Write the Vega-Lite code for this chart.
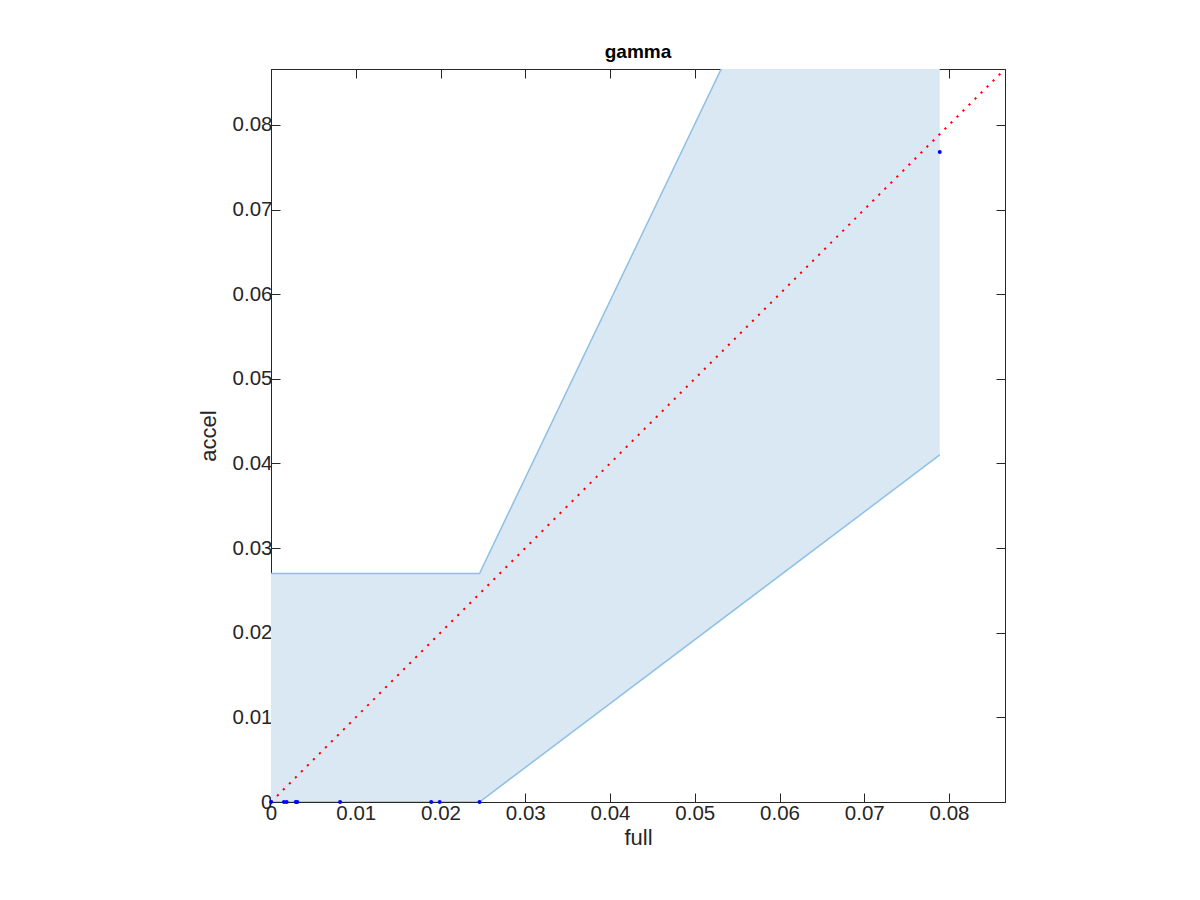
{
  "$schema": "https://vega.github.io/schema/vega-lite/v6.json",
  "width": 734,
  "height": 733,
  "autosize": {"type": "none"},
  "padding": {"left": 271, "top": 69, "right": 195, "bottom": 98},
  "background": "white",
  "title": {"text": "gamma", "anchor": "middle", "frame": "group", "offset": 7, "fontSize": 19, "fontWeight": "bold", "font": "Liberation Sans", "color": "#000000"},
  "config": {
    "view": {"stroke": "#262626", "strokeWidth": 1},
    "axis": {"labelFont": "Liberation Sans", "titleFont": "Liberation Sans", "labelFontSize": 20.5, "titleFontSize": 22, "titleFontWeight": "normal", "labelColor": "#262626", "titleColor": "#262626", "domainColor": "#262626", "tickColor": "#262626", "grid": false, "tickSize": -9, "domainWidth": 1, "tickWidth": 1, "format": "~g"}
  },
  "datasets": {
    "band": [
      {"x": 0, "lo": 0, "hi": 0.027},
      {"x": 0.0246, "lo": 0, "hi": 0.027},
      {"x": 0.0789, "lo": 0.041, "hi": 0.1405}
    ],
    "diag": [
      {"x": 0, "y": 0, "x2": 0.0866, "y2": 0.0866}
    ],
    "pts": [
      {"x": 0, "y": 0},
      {"x": 0.00153, "y": 0},
      {"x": 0.00184, "y": 0},
      {"x": 0.00292, "y": 0},
      {"x": 0.0031, "y": 0},
      {"x": 0.00815, "y": 0},
      {"x": 0.0189, "y": 0},
      {"x": 0.0199, "y": 0},
      {"x": 0.0246, "y": 0},
      {"x": 0.0789, "y": 0.0768}
    ]
  },
  "layer": [
    {
      "data": {"name": "band"},
      "mark": {"type": "area", "clip": true, "color": "#dae8f4", "opacity": 1},
      "encoding": {
        "x": {"field": "x", "type": "quantitative", "scale": {"domain": [0, 0.0866], "nice": false, "zero": false},
              "axis": {"orient": "bottom", "values": [0, 0.01, 0.02, 0.03, 0.04, 0.05, 0.06, 0.07, 0.08], "title": "full", "labelPadding": 10.5, "titlePadding": 3, "labelFlush": false}},
        "y": {"field": "lo", "type": "quantitative", "scale": {"domain": [0, 0.0866], "nice": false, "zero": false},
              "axis": {"orient": "left", "values": [0, 0.01, 0.02, 0.03, 0.04, 0.05, 0.06, 0.07, 0.08], "title": "accel", "labelPadding": 8, "titlePadding": 12, "labelFlush": false}},
        "y2": {"field": "hi"}
      }
    },
    {
      "data": {"name": "band"},
      "mark": {"type": "line", "clip": true, "color": "#8ec0e4", "strokeWidth": 1.5},
      "encoding": {
        "x": {"field": "x", "type": "quantitative", "axis": null},
        "y": {"field": "hi", "type": "quantitative", "axis": null}
      }
    },
    {
      "data": {"name": "band"},
      "mark": {"type": "line", "clip": true, "color": "#8ec0e4", "strokeWidth": 1.5},
      "encoding": {
        "x": {"field": "x", "type": "quantitative", "axis": null},
        "y": {"field": "lo", "type": "quantitative", "axis": null}
      }
    },
    {
      "data": {"name": "diag"},
      "mark": {"type": "rule", "clip": true, "color": "#ff0000", "strokeWidth": 2, "strokeDash": [2.2, 6.3], "strokeCap": "butt"},
      "encoding": {
        "x": {"field": "x", "type": "quantitative",
              "axis": {"orient": "top", "values": [0, 0.01, 0.02, 0.03, 0.04, 0.05, 0.06, 0.07, 0.08], "labels": false, "title": null, "domain": true}},
        "y": {"field": "y", "type": "quantitative",
              "axis": {"orient": "right", "values": [0, 0.01, 0.02, 0.03, 0.04, 0.05, 0.06, 0.07, 0.08], "labels": false, "title": null, "domain": true}},
        "x2": {"field": "x2"},
        "y2": {"field": "y2"}
      }
    },
    {
      "data": {"name": "pts"},
      "mark": {"type": "point", "filled": true, "shape": "circle", "color": "#0000ff", "size": 16, "opacity": 1, "clip": false},
      "encoding": {
        "x": {"field": "x", "type": "quantitative", "axis": null},
        "y": {"field": "y", "type": "quantitative", "axis": null}
      }
    }
  ],
  "resolve": {"axis": {"x": "independent", "y": "independent"}}
}
